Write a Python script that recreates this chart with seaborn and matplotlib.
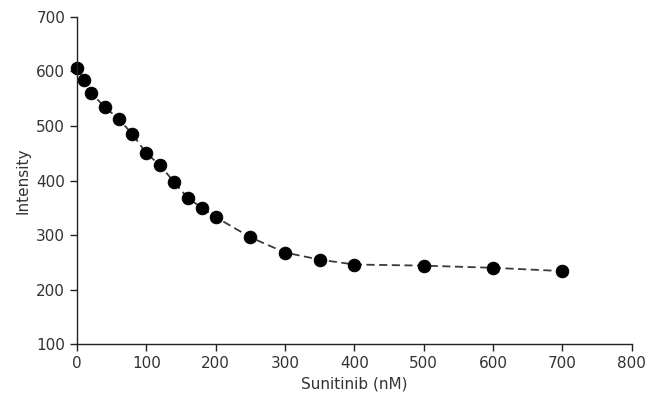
import numpy as np
import pandas as pd
import matplotlib
matplotlib.use("Agg")
import matplotlib.pyplot as plt
import seaborn as sns

# Sunitinib titration
conc_nM = [0, 10, 20, 40, 60, 80, 100, 120, 140, 160, 180, 200,
           250, 300, 350, 400, 500, 600, 700]
intensity = [607, 584, 561, 535, 513, 485, 450, 428, 397, 368, 350, 333,
             296, 268, 255, 246, 244, 240, 234]

x_ticks = [0, 100, 200, 300, 400, 500, 600, 700, 800]
y_ticks = [100, 200, 300, 400, 500, 600, 700]

df = pd.DataFrame({"conc": conc_nM, "intensity": intensity})

sns.set_style("ticks")
plt.rcParams["font.family"] = ["DejaVu Sans"]

fig = plt.figure(figsize=(6.58, 4.03), dpi=100)
ax = fig.add_axes([0.117, 0.146, 0.843, 0.812])

sns.lineplot(data=df, x="conc", y="intensity", ax=ax, color="#3a3a3a",
             linestyle=(0, (4.5, 2.5)), linewidth=1.3, marker="o",
             markersize=9, markerfacecolor="black", markeredgecolor="black",
             clip_on=False)

ax.set_xlim(0, 800)
ax.set_ylim(100, 700)
ax.set_xticks(x_ticks)
ax.set_yticks(y_ticks)
ax.tick_params(labelsize=11, length=5, width=1, color="#222222", labelcolor="#333333")
ax.set_xlabel("Sunitinib (nM)", fontsize=11, color="#333333")
ax.set_ylabel("Intensity", fontsize=11, color="#333333")
sns.despine(ax=ax)
for s in ["left", "bottom"]:
    ax.spines[s].set_linewidth(1)
    ax.spines[s].set_color("#222222")

fig.savefig("out.png", dpi=100)
